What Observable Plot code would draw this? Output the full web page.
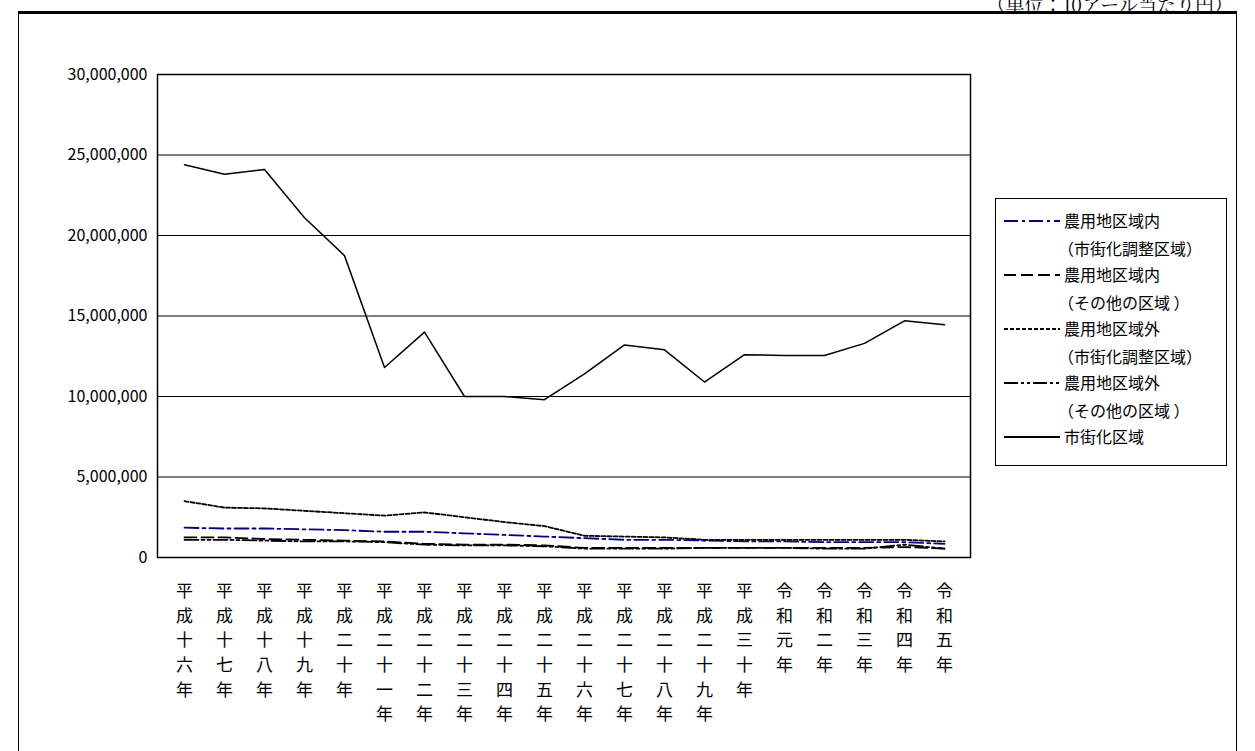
<!DOCTYPE html>
<html lang="ja">
<head>
<meta charset="utf-8">
<title>地価推移</title>
<script src="https://cdn.jsdelivr.net/npm/d3@7"></script>
<script src="https://cdn.jsdelivr.net/npm/@observablehq/plot@0.6"></script>
<style>
  body { margin: 0; background: #fff; font-family: 'Noto Sans CJK JP', sans-serif; }
  #wrap { position: relative; width: 1255px; height: 751px; overflow: hidden; }
  #frame { position: absolute; left: 18px; top: 11px; width: 1217px; height: 745px; border: 1px solid #000; border-top: 3px solid #000; }
  #unit { position: absolute; right: 22px; top: -10px; font-family: 'Noto Serif CJK JP', serif; font-size: 19px; }
  #legend { position: absolute; left: 995px; top: 198px; width: 230px; height: 266px; border: 1px solid #000; background: #fff; font-size: 16px; }
  #legend .row { position: absolute; left: 0; height: 26px; line-height: 26px; }
  #legend svg { position: absolute; left: 8px; top: 12px; }
  #legend span { position: absolute; left: 68px; white-space: nowrap; }
  #graphic { position: absolute; left: 0; top: 0; }
</style>
</head>
<body>
<div id="wrap">
  <div id="frame"></div>
  <div id="unit">（単位：10アール当たり円）</div>
  <div id="graphic"></div>
  <div id="legend"></div>
</div>
<script>
  const years = ["平成十六年","平成十七年","平成十八年","平成十九年","平成二十年","平成二十一年","平成二十二年","平成二十三年","平成二十四年","平成二十五年","平成二十六年","平成二十七年","平成二十八年","平成二十九年","平成三十年","令和元年","令和二年","令和三年","令和四年","令和五年"];

  const inChosei = [1.85,1.8,1.8,1.75,1.7,1.6,1.6,1.5,1.4,1.3,1.2,1.1,1.1,1.05,1.0,1.0,0.95,0.95,0.95,0.85];
  const inOther  = [1.25,1.25,1.15,1.1,1.05,1.0,0.85,0.8,0.8,0.75,0.6,0.6,0.6,0.6,0.6,0.6,0.6,0.6,0.65,0.55];
  const outChosei = [3.5,3.1,3.05,2.9,2.75,2.6,2.8,2.5,2.2,1.95,1.35,1.3,1.25,1.1,1.1,1.1,1.1,1.1,1.1,1.0];
  const outOther = [1.1,1.1,1.05,1.0,1.0,0.95,0.8,0.75,0.75,0.7,0.55,0.55,0.55,0.6,0.6,0.6,0.55,0.55,0.8,0.55];
  const urban = [24.4,23.8,24.1,21.1,18.75,11.8,14.0,10.0,10.0,9.8,11.4,13.2,12.9,10.9,12.6,12.55,12.55,13.3,14.7,14.45];

  const series = [
    {name: "農用地区域内", sub: "（市街化調整区域）", values: inChosei, stroke: "#000080", dash: "14,4,3,4"},
    {name: "農用地区域内", sub: "（その他の区域 ）", values: inOther, stroke: "#000", dash: "12,5"},
    {name: "農用地区域外", sub: "（市街化調整区域）", values: outChosei, stroke: "#000", dash: "4,2"},
    {name: "農用地区域外", sub: "（その他の区域 ）", values: outOther, stroke: "#000", dash: "14,3,3,3,3,3"},
    {name: "市街化区域", sub: null, values: urban, stroke: "#000", dash: null}
  ];

  const data = series.flatMap((s, i) => s.values.map((v, j) => ({k: i, year: years[j], value: v * 1e6})));

  const marks = [
    Plot.ruleY([5e6, 10e6, 15e6, 20e6, 25e6], {stroke: "#000", strokeWidth: 1}),
    Plot.frame({stroke: "#000", strokeWidth: 1.5}),
    Plot.axisY({ticks: d3.range(0, 30000001, 5000000), tickFormat: d3.format(","), tickSize: 0, tickPadding: 10, fontSize: 16, label: null}),
    Plot.text(years, {x: d => d, frameAnchor: "bottom", text: d => d.split("").join("\n"), lineAnchor: "top", dy: 22, fontSize: 17, lineHeight: 1.45})
  ];
  series.forEach((s, i) => {
    marks.push(Plot.line(data.filter(d => d.k === i), {x: "year", y: "value", stroke: s.stroke, strokeWidth: i === 4 ? 1.5 : 1.8, strokeDasharray: s.dash}));
  });

  const chart = Plot.plot({
    width: 1255, height: 751,
    marginLeft: 157, marginRight: 285, marginTop: 74, marginBottom: 194,
    style: {fontFamily: "'Noto Sans CJK JP', sans-serif", fontSize: "16px", background: "transparent", color: "#000"},
    x: {type: "point", domain: years, padding: 0.5, axis: null},
    y: {domain: [0, 30000000]},
    marks
  });
  document.getElementById("graphic").appendChild(chart);

  const leg = document.getElementById("legend");
  let rowTop = 8;
  series.forEach(s => {
    const row = document.createElement("div");
    row.className = "row";
    row.style.top = rowTop + "px";
    row.innerHTML = `<svg width="56" height="4"><line x1="0" y1="2" x2="56" y2="2" stroke="${s.stroke}" stroke-width="2" ${s.dash ? `stroke-dasharray="${s.dash}"` : ""}/></svg><span>${s.name}</span>`;
    leg.appendChild(row);
    rowTop += 28;
    if (s.sub) {
      const r2 = document.createElement("div");
      r2.className = "row";
      r2.style.top = rowTop + "px";
      r2.innerHTML = `<span style="left:62px">${s.sub}</span>`;
      leg.appendChild(r2);
      rowTop += 26;
    }
  });
</script>
</body>
</html>
